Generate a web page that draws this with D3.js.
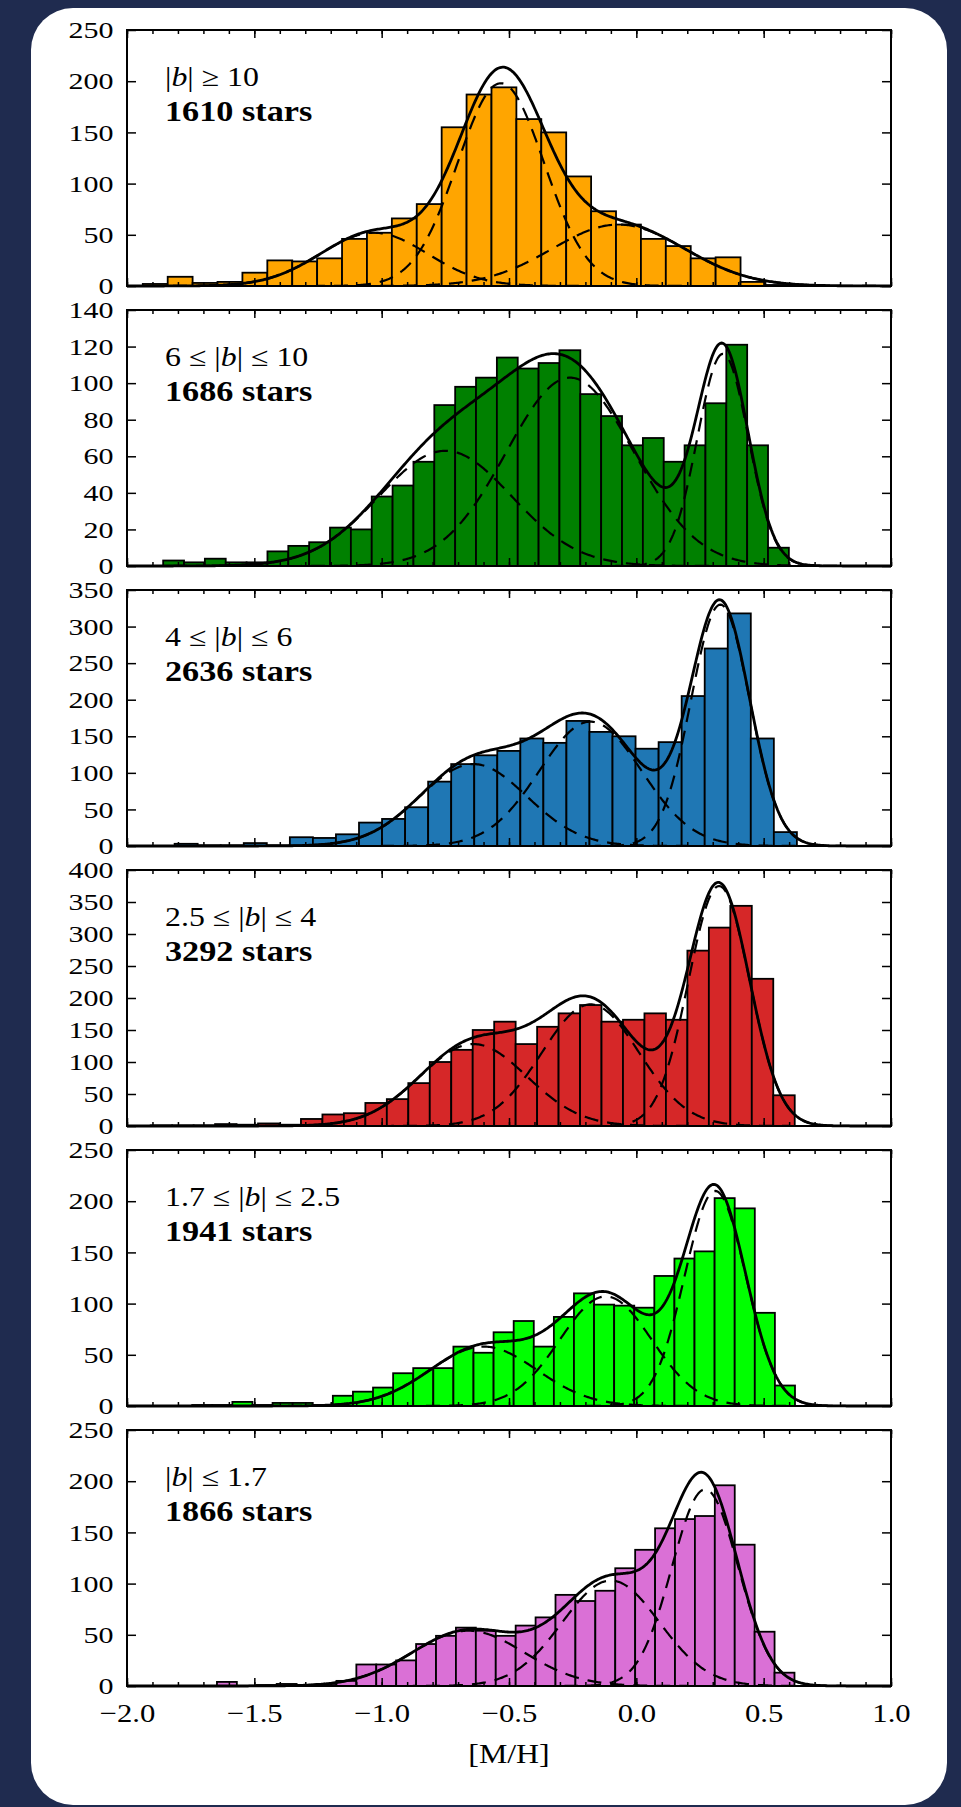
<!DOCTYPE html>
<html lang="en">
<head>
  <meta charset="UTF-8">
  <title>[M/H] distributions by latitude</title>
  <script src="https://d3js.org/d3.v7.min.js"></script>
  <style>
    body {
      margin: 0;
      background: #1f2b4f;
    }

    svg {
      display: block;
    }

    text {
      font-family: 'Liberation Serif', 'Times New Roman', serif;
      fill: #000;
    }

    .axis line {
      stroke: #000;
      stroke-width: 1.5;
    }
  </style>
</head>
<body>
  <div id="chart"></div>

  <script>
    // latitude cuts and star counts, top to bottom
    const labelParts = [
      ["|", "b", "| \u2265 10"],
      ["6 \u2264 |", "b", "| \u2264 10"],
      ["4 \u2264 |", "b", "| \u2264 6"],
      ["2.5 \u2264 |", "b", "| \u2264 4"],
      ["1.7 \u2264 |", "b", "| \u2264 2.5"],
      ["|", "b", "| \u2264 1.7"]
    ];
    const starCounts = [1610, 1686, 2636, 3292, 1941, 1866];
    const barColors = ["#ffa500", "#008000", "#1f77b4", "#d62728", "#00ff00", "#da70d6"];

    const xTicks = [-2.0, -1.5, -1.0, -0.5, 0.0, 0.5, 1.0];
    const yTicks = [
      [0, 50, 100, 150, 200, 250],
      [0, 20, 40, 60, 80, 100, 120, 140],
      [0, 50, 100, 150, 200, 250, 300, 350],
      [0, 50, 100, 150, 200, 250, 300, 350, 400],
      [0, 50, 100, 150, 200, 250],
      [0, 50, 100, 150, 200, 250]
    ];

    // histogram bins: first edge and bin width per panel (30 bins each)
    const binStart = [-1.938, -1.858, -1.994, -1.907, -1.744, -1.725];
    const binWidth = [0.0978, 0.0819, 0.0905, 0.0843, 0.0789, 0.0782];

    const counts1 = [2, 9, 3, 4, 13, 25, 24, 27, 46, 52, 66, 80, 155, 187, 194, 163, 150, 107, 73, 60, 46, 39, 27, 28, 4, 1, 1, 0, 0, 0];
    const counts2 = [3, 2, 4, 2, 2, 8, 11, 13, 21, 20, 38, 44, 57, 88, 98, 103, 114, 108, 111, 118, 94, 82, 66, 70, 57, 66, 89, 121, 66, 10];
    const counts3 = [0, 0, 3, 1, 1, 4, 1, 12, 11, 16, 32, 37, 53, 88, 112, 124, 130, 147, 141, 171, 156, 150, 133, 142, 205, 270, 318, 147, 19, 0];
    const counts4 = [1, 1, 1, 3, 2, 4, 2, 11, 18, 20, 36, 42, 67, 100, 119, 150, 163, 128, 155, 176, 189, 163, 166, 176, 166, 274, 310, 344, 230, 48];
    const counts5 = [1, 1, 4, 1, 3, 3, 1, 10, 14, 18, 32, 37, 37, 58, 52, 72, 83, 58, 87, 110, 99, 98, 96, 127, 144, 151, 203, 193, 91, 20];
    const counts6 = [0, 4, 0, 1, 2, 1, 2, 5, 21, 21, 25, 41, 49, 57, 54, 49, 59, 67, 89, 83, 93, 115, 133, 154, 163, 166, 196, 138, 53, 13];
    const allCounts = [counts1, counts2, counts3, counts4, counts5, counts6];

    // gaussian fit components: centre, width, peak height
    const compMean = [
      [-1.03, -0.532, -0.07],
      [-0.75, -0.26, 0.34],
      [-0.64, -0.18, 0.33],
      [-0.64, -0.18, 0.325],
      [-0.60, -0.12, 0.31],
      [-0.66, -0.10, 0.27]
    ];
    const compSigma = [
      [0.21, 0.17, 0.26],
      [0.26, 0.25, 0.10],
      [0.21, 0.20, 0.115],
      [0.21, 0.19, 0.12],
      [0.21, 0.18, 0.12],
      [0.22, 0.19, 0.13]
    ];
    const compPeak = [
      [52, 198, 60],
      [63, 103, 116],
      [112, 170, 330],
      [128, 190, 375],
      [58, 107, 210],
      [54, 103, 192]
    ];

    const width = 961, height = 1807;
    const plotLeft = 127, plotWidth = 764, plotHeight = 256;
    const panelTop = [30, 310, 590, 870, 1150, 1430];
    const sx = 1.18; // the source figure is stretched a little sideways
    const tickSx = 1.25;

    const svg = d3.select("#chart")
      .append("svg")
      .attr("width", width)
      .attr("height", height);

    svg.append("rect")
      .attr("width", width)
      .attr("height", height)
      .attr("fill", "#1f2b4f");

    svg.append("rect")
      .attr("x", 31)
      .attr("y", 8)
      .attr("width", 916)
      .attr("height", 1797)
      .attr("rx", 42)
      .attr("fill", "#fff");

    const x = d3.scaleLinear().domain([-2, 1]).range([0, plotWidth]);
    const xs = d3.range(-2, 1.0001, 0.005);
    const fmt = d3.format(".1f");

    function gauss(v, m, s, a) {
      return a * Math.exp(-((v - m) * (v - m)) / (2 * s * s));
    }

    allCounts.forEach((counts, i) => {
      const g = svg.append("g")
        .attr("transform", `translate(${plotLeft},${panelTop[i]})`);

      const yMax = yTicks[i][yTicks[i].length - 1];
      const y = d3.scaleLinear().domain([0, yMax]).range([plotHeight, 0]);

      const bins = counts.map((c, k) => ({
        x0: binStart[i] + k * binWidth[i],
        x1: binStart[i] + (k + 1) * binWidth[i],
        c: c
      })).filter(d => d.c > 0);

      g.selectAll(".bar")
        .data(bins)
        .enter().append("rect")
        .attr("class", "bar")
        .attr("x", d => x(d.x0))
        .attr("width", d => x(d.x1) - x(d.x0))
        .attr("y", d => y(d.c))
        .attr("height", d => plotHeight - y(d.c))
        .attr("fill", barColors[i])
        .attr("stroke", "#000")
        .attr("stroke-width", 1.8);

      const line = d3.line()
        .x(d => x(d[0]))
        .y(d => y(d[1]));

      compMean[i].forEach((m, j) => {
        const pts = xs.map(v => [v, gauss(v, m, compSigma[i][j], compPeak[i][j])]);
        g.append("path")
          .datum(pts)
          .attr("fill", "none")
          .attr("stroke", "#000")
          .attr("stroke-width", 2.2)
          .attr("stroke-dasharray", "14,9")
          .attr("d", line);
      });

      const total = xs.map(v => [v, d3.sum(compMean[i], (m, j) => gauss(v, m, compSigma[i][j], compPeak[i][j]))]);
      g.append("path")
        .datum(total)
        .attr("fill", "none")
        .attr("stroke", "#000")
        .attr("stroke-width", 2.8)
        .attr("d", line);

      // y axis, ticks pointing inward
      const yl = g.append("g")
        .attr("class", "axis")
        .call(d3.axisLeft(y).tickValues(yTicks[i]).tickSizeInner(-9).tickSizeOuter(0));
      yl.selectAll("text")
        .attr("x", -13.5 / tickSx)
        .attr("transform", `scale(${tickSx},1)`)
        .style("font-size", "24px");

      g.append("g")
        .attr("class", "axis")
        .attr("transform", `translate(${plotWidth},0)`)
        .call(d3.axisRight(y).tickValues(yTicks[i]).tickSizeInner(-9).tickSizeOuter(0).tickFormat(""));

      // x axis, major + minor on bottom and top
      const xb = g.append("g")
        .attr("class", "axis")
        .attr("transform", `translate(0,${plotHeight})`)
        .call(d3.axisBottom(x).tickValues(xTicks).tickSizeInner(-8).tickSizeOuter(0)
          .tickFormat(i === 5 ? fmt : ""));
      xb.selectAll("text")
        .attr("y", 36)
        .attr("dy", 0)
        .attr("transform", `scale(${sx},1)`)
        .style("font-size", "26px");

      g.append("g")
        .attr("class", "axis")
        .attr("transform", `translate(0,${plotHeight})`)
        .call(d3.axisBottom(x).tickValues(x.ticks(30)).tickSizeInner(-4).tickSizeOuter(0).tickFormat(""));

      g.append("g")
        .attr("class", "axis")
        .call(d3.axisTop(x).tickValues(xTicks).tickSizeInner(-8).tickSizeOuter(0).tickFormat(""));

      g.append("g")
        .attr("class", "axis")
        .call(d3.axisTop(x).tickValues(x.ticks(30)).tickSizeInner(-4).tickSizeOuter(0).tickFormat(""));

      g.selectAll(".domain").remove();

      g.append("rect")
        .attr("width", plotWidth)
        .attr("height", plotHeight)
        .attr("fill", "none")
        .attr("stroke", "#000")
        .attr("stroke-width", 2);

      // panel annotation
      const lab = g.append("text")
        .attr("transform", `translate(38,56) scale(${sx},1)`)
        .style("font-size", "27px");
      lab.append("tspan").text(labelParts[i][0]);
      lab.append("tspan").style("font-style", "italic").text(labelParts[i][1]);
      lab.append("tspan").text(labelParts[i][2]);

      g.append("text")
        .attr("transform", `translate(38,91) scale(${sx},1)`)
        .style("font-size", "29px")
        .style("font-weight", "bold")
        .text(`${starCounts[i]} stars`);
    });

    svg.append("text")
      .attr("transform", `translate(${plotLeft + plotWidth / 2},1763) scale(${sx},1)`)
      .attr("text-anchor", "middle")
      .style("font-size", "27px")
      .text("[M/H]");
  </script>
</body>
</html>
